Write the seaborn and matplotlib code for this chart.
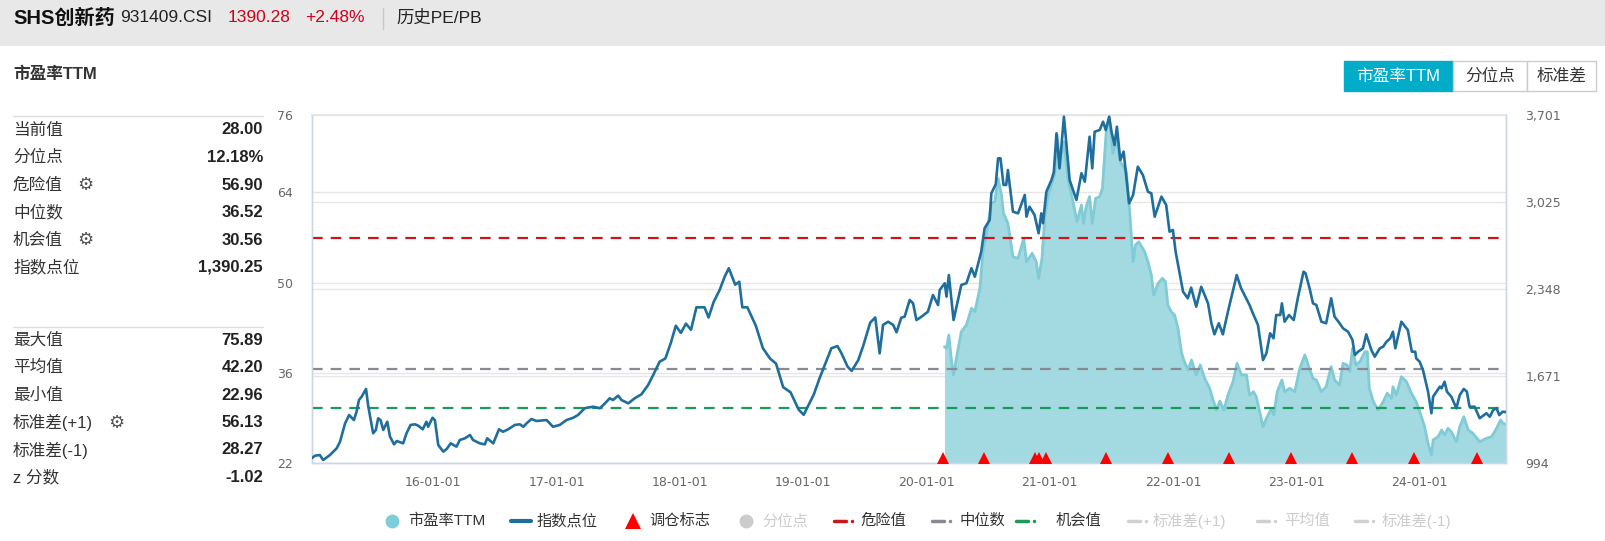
import numpy as np
import pandas as pd
import matplotlib
matplotlib.use("Agg")
import matplotlib.pyplot as plt
import matplotlib.dates as mdates
import matplotlib.transforms as mtransforms
from matplotlib.patches import Rectangle
from matplotlib.lines import Line2D
import seaborn as sns

W, H = 1606, 541

# -----------------------------------------------------------------------
# DATA
# -----------------------------------------------------------------------
index_dates = [
    "2015-01-06", "2015-01-16", "2015-01-30", "2015-02-09", "2015-03-01", "2015-03-21",
    "2015-03-31", "2015-04-15", "2015-04-27", "2015-05-11", "2015-05-19", "2015-05-26",
    "2015-06-03", "2015-06-16", "2015-06-22", "2015-07-07", "2015-07-15", "2015-07-22",
    "2015-07-29", "2015-08-06", "2015-08-18", "2015-08-26", "2015-09-07", "2015-09-15",
    "2015-10-04", "2015-10-14", "2015-10-26", "2015-11-08", "2015-11-18", "2015-12-01",
    "2015-12-12", "2015-12-17", "2015-12-30", "2016-01-06", "2016-01-16", "2016-01-31",
    "2016-02-10", "2016-02-22", "2016-03-10", "2016-03-20", "2016-04-04", "2016-04-19",
    "2016-04-28", "2016-05-18", "2016-06-02", "2016-06-09", "2016-06-27", "2016-07-14",
    "2016-07-26", "2016-08-10", "2016-08-30", "2016-09-14", "2016-09-24", "2016-10-04",
    "2016-10-18", "2016-11-02", "2016-12-02", "2016-12-21", "2017-01-10", "2017-01-30",
    "2017-02-19", "2017-03-05", "2017-03-25", "2017-04-19", "2017-05-09", "2017-05-24",
    "2017-06-07", "2017-06-17", "2017-07-02", "2017-07-12", "2017-08-01", "2017-08-20",
    "2017-09-09", "2017-09-29", "2017-10-14", "2017-11-02", "2017-11-19", "2017-12-05",
    "2017-12-20", "2018-01-04", "2018-01-19", "2018-02-03", "2018-02-19", "2018-03-15",
    "2018-03-27", "2018-04-11", "2018-04-29", "2018-05-14", "2018-05-26", "2018-06-14",
    "2018-06-26", "2018-07-05", "2018-07-20", "2018-08-14", "2018-09-04", "2018-09-25",
    "2018-10-13", "2018-11-03", "2018-11-25", "2018-12-19", "2019-01-03", "2019-01-18",
    "2019-02-02", "2019-02-18", "2019-03-08", "2019-03-26", "2019-04-13", "2019-04-25",
    "2019-05-13", "2019-05-25", "2019-06-13", "2019-06-28", "2019-07-19", "2019-08-03",
    "2019-08-16", "2019-08-26", "2019-09-10", "2019-09-25",
    "2019-10-05", "2019-10-19", "2019-10-29", "2019-11-13", "2019-11-23", "2019-12-03",
    "2019-12-18", "2020-01-06", "2020-01-21", "2020-02-05", "2020-02-10", "2020-02-25",
    "2020-03-01", "2020-03-08", "2020-03-22", "2020-04-01", "2020-04-14", "2020-04-29",
    "2020-05-14", "2020-05-24", "2020-06-12", "2020-06-22", "2020-07-07", "2020-07-12",
    "2020-07-25", "2020-08-01", "2020-08-08", "2020-08-17", "2020-08-25", "2020-08-30",
    "2020-09-14", "2020-09-29", "2020-10-19", "2020-10-24", "2020-11-02", "2020-11-17",
    "2020-11-29", "2020-12-07", "2020-12-12", "2020-12-22", "2021-01-06", "2021-01-13",
    "2021-01-21", "2021-01-30", "2021-02-12", "2021-03-01", "2021-03-21", "2021-04-05",
    "2021-04-15", "2021-04-29", "2021-05-07", "2021-05-14", "2021-05-29", "2021-06-08",
    "2021-06-16", "2021-06-26", "2021-07-03", "2021-07-12", "2021-07-19", "2021-07-29",
    "2021-08-08", "2021-08-24", "2021-09-05", "2021-09-19", "2021-10-04", "2021-10-19",
    "2021-10-29", "2021-11-08", "2021-11-28", "2021-12-12", "2021-12-22", "2022-01-01",
    "2022-01-09", "2022-01-31", "2022-02-14", "2022-02-24", "2022-03-11", "2022-03-26",
    "2022-04-15", "2022-04-25", "2022-05-04", "2022-05-17", "2022-05-29", "2022-06-13",
    "2022-06-26", "2022-07-09", "2022-07-22", "2022-08-06", "2022-08-16", "2022-08-26",
    "2022-09-10", "2022-09-25", "2022-10-05", "2022-10-16", "2022-10-26", "2022-11-03",
    "2022-11-15", "2022-11-20", "2022-11-28", "2022-12-11", "2022-12-25", "2023-01-06",
    "2023-01-23", "2023-01-29", "2023-02-10", "2023-02-20", "2023-03-02", "2023-03-17",
    "2023-03-31", "2023-04-15", "2023-04-25", "2023-05-10", "2023-05-20", "2023-06-04",
    "2023-06-17", "2023-06-24", "2023-07-04", "2023-07-18", "2023-07-28", "2023-08-12",
    "2023-08-22", "2023-09-06", "2023-09-16", "2023-09-26", "2023-10-07", "2023-10-15",
    "2023-10-22", "2023-11-09", "2023-11-28", "2023-12-10", "2023-12-20", "2023-12-23",
    "2024-01-02", "2024-01-12", "2024-01-27", "2024-02-06", "2024-02-11", "2024-03-02",
    "2024-03-07", "2024-03-16", "2024-03-23", "2024-04-05", "2024-04-20", "2024-04-30",
    "2024-05-12", "2024-05-21", "2024-05-29", "2024-06-13", "2024-06-28", "2024-07-18",
    "2024-07-28", "2024-08-07", "2024-08-17", "2024-08-25", "2024-09-04", "2024-09-14",
]
index_values = [
    1031, 1051, 1056, 1017, 1056, 1108, 1160, 1303, 1367, 1328, 1393, 1484,
    1510, 1570, 1445, 1225, 1251, 1342, 1328, 1251, 1315, 1199, 1139, 1165,
    1147, 1225, 1290, 1295, 1284, 1256, 1315, 1276, 1346, 1328, 1134, 1082,
    1103, 1147, 1121, 1173, 1186, 1212, 1173, 1147, 1139, 1186, 1147, 1256,
    1237, 1256, 1290, 1295, 1276, 1303, 1336, 1321, 1328, 1276, 1290, 1328,
    1346, 1367, 1420, 1432, 1420, 1458, 1497, 1484, 1518, 1484, 1458, 1497,
    1528, 1601, 1679, 1782, 1807, 1927, 2062, 2006, 2078, 2030, 2205, 2205,
    2126, 2246, 2341, 2445, 2509, 2381, 2404, 2205, 2205, 2062, 1887, 1807,
    1767, 1584, 1544, 1409, 1369, 1448, 1528, 1647, 1767, 1887, 1903, 1847,
    1743, 1711, 1791, 1903, 2086, 2126, 1847, 2068, 2093, 2068,
    2011, 2124, 2132, 2262, 2236, 2106, 2132, 2171, 2301, 2223, 2340, 2392,
    2288, 2456, 2106, 2223, 2379, 2392, 2509, 2443, 2638, 2820, 2884, 3092,
    3162, 3364, 3364, 3157, 3157, 3273, 2949, 2936, 3079, 2910, 2988, 2923,
    2781, 2936, 2859, 3104, 3195, 3255, 3559, 3286, 3688, 3195, 3040, 3248,
    3182, 3532, 3286, 3571, 3584, 3649, 3584, 3688, 3571, 3468, 3610, 3351,
    3416, 3014, 3079, 3299, 3234, 3104, 3092, 2910, 3066, 3001, 2793, 2807,
    2638, 2327, 2275, 2358, 2210, 2365, 2236, 2081, 1995, 2081, 1995, 2171,
    2314, 2456, 2353, 2275, 2223, 2158, 2068, 1795, 1847, 2003, 1964, 2145,
    2145, 2236, 2093, 2145, 2106, 2275, 2482, 2470, 2353, 2236, 2223, 2093,
    2081, 2275, 2132, 2081, 2042, 2015, 1951, 1834, 1860, 1886, 1995, 1873,
    1821, 1886, 1899, 1938, 1964, 2015, 1886, 2093, 2029, 1860, 1860, 1808,
    1782, 1717, 1549, 1381, 1510, 1588, 1575, 1626, 1549, 1510, 1420, 1523,
    1570, 1549, 1432, 1432, 1342, 1381, 1354, 1406, 1420, 1367, 1393, 1390,
]

pe_dates = [
    "2020-02-24", "2020-03-01", "2020-03-08", "2020-03-15", "2020-03-22", "2020-04-01",
    "2020-04-14", "2020-04-29", "2020-05-14", "2020-05-24", "2020-06-08", "2020-06-17",
    "2020-06-27", "2020-07-12", "2020-07-22", "2020-08-01", "2020-08-11", "2020-08-17",
    "2020-08-30", "2020-09-14", "2020-09-29", "2020-10-16", "2020-10-24", "2020-11-10",
    "2020-11-22", "2020-11-29", "2020-12-09", "2020-12-17", "2020-12-27", "2021-01-06",
    "2021-01-15", "2021-01-23", "2021-01-30", "2021-02-12", "2021-02-24", "2021-03-11",
    "2021-03-23", "2021-04-05", "2021-04-11", "2021-04-19", "2021-04-29", "2021-05-07",
    "2021-05-17", "2021-05-29", "2021-06-06", "2021-06-18", "2021-06-27", "2021-07-07",
    "2021-07-17", "2021-07-29", "2021-08-16", "2021-08-26", "2021-09-05", "2021-09-12",
    "2021-09-22", "2021-10-09", "2021-10-19", "2021-10-29", "2021-11-05", "2021-11-18",
    "2021-12-01", "2021-12-10", "2021-12-17", "2021-12-27", "2022-01-06", "2022-01-16",
    "2022-01-26", "2022-02-02", "2022-02-15", "2022-02-25", "2022-03-11", "2022-03-23",
    "2022-04-05", "2022-04-20", "2022-04-30", "2022-05-10", "2022-05-20", "2022-06-01",
    "2022-06-13", "2022-06-28", "2022-07-10", "2022-07-23", "2022-08-07", "2022-08-16",
    "2022-08-28", "2022-09-05", "2022-09-25", "2022-10-05", "2022-10-20", "2022-10-27",
    "2022-11-06", "2022-11-20", "2022-11-28", "2022-12-13", "2022-12-28", "2023-01-12",
    "2023-01-27", "2023-02-09", "2023-02-20", "2023-03-02", "2023-03-17", "2023-03-31",
    "2023-04-15", "2023-04-25", "2023-05-10", "2023-05-20", "2023-06-01", "2023-06-09",
    "2023-06-17", "2023-06-27", "2023-07-09", "2023-07-24", "2023-07-31", "2023-08-06",
    "2023-08-18", "2023-09-01", "2023-09-16", "2023-09-28", "2023-10-11", "2023-10-15",
    "2023-10-25", "2023-11-09", "2023-11-24", "2023-12-09", "2023-12-23", "2024-01-04",
    "2024-01-17", "2024-01-27", "2024-02-06", "2024-02-11", "2024-02-26", "2024-03-07",
    "2024-03-16", "2024-03-26", "2024-04-05", "2024-04-20", "2024-04-30", "2024-05-12",
    "2024-05-25", "2024-06-08", "2024-06-28", "2024-07-18", "2024-08-02", "2024-08-17",
    "2024-08-29", "2024-09-05", "2024-09-14",
]
pe_values = [
    40.05, 39.80, 41.86, 38.25, 35.66, 38.76, 42.38, 43.42, 46.01, 45.48, 49.11, 54.79,
    57.38, 62.30, 62.55, 66.18, 63.59, 60.75, 59.20, 54.01, 53.77, 56.87, 53.24, 54.54,
    53.24, 50.66, 53.77, 59.97, 63.59, 65.14, 66.69, 72.90, 68.76, 71.86, 66.18, 62.55,
    59.45, 62.04, 59.20, 61.77, 63.33, 59.20, 63.08, 63.33, 64.63, 73.94, 75.49, 70.06,
    72.39, 68.76, 67.20, 61.00, 53.24, 55.83, 56.34, 54.79, 53.24, 51.17, 48.07, 49.89,
    50.66, 50.13, 46.52, 45.48, 44.97, 42.90, 39.27, 37.98, 36.43, 37.98, 35.66, 37.21,
    35.14, 33.59, 31.78, 30.22, 31.62, 30.22, 32.55, 34.62, 37.47, 35.66, 35.66, 32.55,
    33.06, 32.29, 27.63, 28.94, 30.49, 29.45, 33.06, 34.88, 33.06, 33.59, 33.06, 36.70,
    38.76, 36.70, 35.14, 34.88, 33.06, 33.84, 36.94, 34.88, 34.10, 37.47, 37.21, 36.17,
    39.80, 37.21, 37.72, 39.27, 39.27, 33.59, 31.51, 30.22, 31.51, 32.82, 32.04, 33.84,
    32.55, 35.39, 34.62, 32.82, 31.51, 29.71, 27.63, 25.06, 23.24, 25.57, 26.08, 27.12,
    26.35, 27.38, 26.86, 25.31, 27.63, 29.18, 27.12, 26.61, 25.31, 25.83, 26.08, 27.38,
    28.67, 28.16, 28.00,
]

rebalance_dates = [
    "2020-02-21", "2020-06-19", "2020-11-17", "2020-12-01", "2020-12-22", "2021-06-18",
    "2021-12-17", "2022-06-17", "2022-12-16", "2023-06-16", "2023-12-15", "2024-06-21",
]

danger_value = 56.90
median_value = 36.52
chance_value = 30.56

pe_ticks = [22, 36, 50, 64, 76]
index_min, index_max = 994, 3701
index_tick_labels = ["994", "1,671", "2,348", "3,025", "3,701"]
x_tick_dates = [f"{y}-01-01" for y in range(2016, 2025)]

stats_top = [("当前值", "28.00"), ("分位点", "12.18%"), ("危险值", "56.90"),
             ("中位数", "36.52"), ("机会值", "30.56"), ("指数点位", "1,390.25")]
stats_bottom = [("最大值", "75.89"), ("平均值", "42.20"), ("最小值", "22.96"),
                ("标准差(+1)", "56.13"), ("标准差(-1)", "28.27"), ("z 分数", "-1.02")]
gear_rows = {"危险值": 85, "机会值": 85, "标准差(+1)": 116}

idx_df = pd.DataFrame({"date": pd.to_datetime(index_dates), "value": index_values})
pe_df = pd.DataFrame({"date": pd.to_datetime(pe_dates), "value": pe_values})
reb = pd.to_datetime(rebalance_dates)

# -----------------------------------------------------------------------
# STYLE
# -----------------------------------------------------------------------
sns.set_theme(style="white")
plt.rcParams["font.family"] = ["Liberation Sans", "Noto Sans CJK SC", "DejaVu Sans"]

C_IDX = "#1f6e9c"
C_PE_LINE = "#80cbd6"
C_PE_FILL = "#a3d9e1"
C_RED = "#c8181e"
C_GRAY = "#878a93"
C_GREEN = "#1c9a5c"
C_AXIS = "#ccd6eb"
C_GRID = "#e6e6e6"
C_TICK = "#666666"


def px(x, y):
    return x / W, 1 - y / H


fig = plt.figure(figsize=(W / 100, H / 100), dpi=100)

# header band
fig.patches.append(Rectangle((0, 1 - 46 / H), 1, 46 / H, transform=fig.transFigure,
                             facecolor="#e8e8e8", edgecolor="none", zorder=0))
fig.text(*px(13, 18), "SHS创新药", fontsize=14.5, fontweight="bold", color="#111", va="center")
fig.text(*px(120, 18), "931409.CSI", fontsize=12.5, color="#222", va="center")
fig.text(*px(228, 18), "1390.28", fontsize=12.5, color="#d0021b", va="center")
fig.text(*px(305, 18), "+2.48%", fontsize=12.5, color="#d0021b", va="center")
fig.add_artist(Line2D([383 / W, 383 / W], [1 - 8 / H, 1 - 29 / H], color="#c8c8c8",
                      lw=1, transform=fig.transFigure))
fig.text(*px(396, 18), "历史PE/PB", fontsize=12.5, color="#222", va="center")

fig.text(*px(13, 74), "市盈率TTM", fontsize=12, fontweight="bold", color="#333", va="center")

# buttons
buttons = [("市盈率TTM", 1344, 1453, True), ("分位点", 1453, 1527, False), ("标准差", 1527, 1596, False)]
for label, x0, x1, active in buttons:
    fig.patches.append(Rectangle(px(x0, 91), (x1 - x0) / W, 30 / H, transform=fig.transFigure,
                                 facecolor="#00acc8" if active else "white",
                                 edgecolor="#00acc8" if active else "#cccccc", lw=1))
    fig.text(*px((x0 + x1) / 2, 76), label, fontsize=12, ha="center", va="center",
             color="white" if active else "#333")

# left stats panel
for y_sep in (116, 327):
    fig.add_artist(Line2D([13 / W, 263 / W], [1 - y_sep / H] * 2, color="#dddddd",
                          lw=1, transform=fig.transFigure))
rows = list(zip(stats_top, [130, 157.5, 185, 212, 240, 267])) + \
    list(zip(stats_bottom, [340.5, 367.5, 395, 422.5, 450, 477.5]))
for (label, value), yc in rows:
    fig.text(*px(13, yc), label, fontsize=12, color="#333", va="center")
    fig.text(*px(263, yc), value, fontsize=12, fontweight="bold", color="#222",
             va="center", ha="right")
    if label in gear_rows:
        fig.text(*px(gear_rows[label], yc), "⚙", fontsize=13, color="#555",
                 va="center", ha="center", family="DejaVu Sans")

# -----------------------------------------------------------------------
# MAIN CHART
# -----------------------------------------------------------------------
ax = fig.add_axes([311.7 / W, 1 - 463 / H, (1506 - 311.7) / W, (463 - 115) / H])
ax2 = ax.twinx()

# split lines of the right-hand axis, kept under the series
for frac in np.linspace(0, 1, 5)[1:-1]:
    ax.plot([0, 1], [frac, frac], transform=ax.transAxes, color=C_GRID, lw=1, zorder=0.5)

ax.fill_between(pe_df["date"], pe_ticks[0], pe_df["value"], color=C_PE_FILL, lw=0, zorder=1)
sns.lineplot(data=pe_df, x="date", y="value", ax=ax, color=C_PE_LINE, lw=2, zorder=2)

dash = (0, (4.8, 3.6))
for val, col in ((danger_value, C_RED), (median_value, C_GRAY), (chance_value, C_GREEN)):
    ax.axhline(val, color=col, lw=1.6, linestyle=dash, zorder=3)

sns.lineplot(data=idx_df, x="date", y="value", ax=ax2, color=C_IDX, lw=1.9, zorder=4)

tri_offset = mtransforms.ScaledTranslation(0, 5.5 / 100, fig.dpi_scale_trans)
ax2.plot(reb, np.zeros(len(reb)), linestyle="none", marker="^", ms=8.2, color="#ff0000",
         markeredgewidth=0, transform=ax2.get_xaxis_transform() + tri_offset,
         clip_on=False, zorder=6)

ax.set_xlim(idx_df["date"].iloc[0], idx_df["date"].iloc[-1])
ax.set_ylim(pe_ticks[0], pe_ticks[-1])
ax.set_yticks(pe_ticks)
ax2.set_ylim(index_min, index_max)
ax2.set_yticks(np.linspace(index_min, index_max, 5))
ax2.set_yticklabels(index_tick_labels)

ax.set_xticks(pd.to_datetime(x_tick_dates))
ax.xaxis.set_major_formatter(mdates.DateFormatter("%y-%m-%d"))

for a in (ax, ax2):
    a.set_xlabel("")
    a.set_ylabel("")
    a.grid(axis="x", visible=False)
    for s in ("left", "right", "bottom"):
        a.spines[s].set_color(C_AXIS)
        a.spines[s].set_linewidth(1)
    a.spines["top"].set_color(C_GRID)
    a.tick_params(axis="y", length=0, labelsize=9, labelcolor=C_TICK)
    for t in a.get_yticklabels():
        t.set_family("DejaVu Sans")
ax.grid(axis="y", color=C_GRID, lw=1)
ax2.grid(False)
ax2.patch.set_visible(False)
ax.tick_params(axis="y", pad=13.5)
ax2.tick_params(axis="y", pad=14)
ax.tick_params(axis="x", length=7, width=1, color=C_AXIS, labelsize=9,
               labelcolor=C_TICK, pad=2, direction="out")
for t in ax.get_xticklabels():
    t.set_family("DejaVu Sans")

# -----------------------------------------------------------------------
# LEGEND (drawn by hand, echarts-style row)
# -----------------------------------------------------------------------
ly = 521
tf = fig.transFigure


def legend_text(x, s, color="#333"):
    fig.text(*px(x, ly), s, fontsize=11, color=color, va="center")


fig.add_artist(Line2D([392 / W], [1 - ly / H], marker="o", ms=10, color="#7fcdd8",
                      markeredgewidth=0, transform=tf))
legend_text(408, "市盈率TTM")
fig.add_artist(Line2D([511 / W, 531 / W], [1 - ly / H] * 2, color=C_IDX, lw=3, transform=tf))
legend_text(537, "指数点位")
fig.add_artist(Line2D([633 / W], [1 - ly / H], marker="^", ms=11, color="#ff0000",
                      markeredgewidth=0, transform=tf))
legend_text(649, "调仓标志")
fig.add_artist(Line2D([746 / W], [1 - ly / H], marker="o", ms=10, color="#cccccc",
                      markeredgewidth=0, transform=tf))
legend_text(762, "分位点", "#cccccc")

dashdot_items = [(834, "危险值", C_RED, "#333"), (932, "中位数", C_GRAY, "#333"),
                 (1016, "机会值", C_GREEN, "#333"), (1128, "标准差(+1)", "#d0d0d0", "#cccccc"),
                 (1257, "平均值", "#d0d0d0", "#cccccc"), (1355, "标准差(-1)", "#d0d0d0", "#cccccc")]
text_gap = {"危险值": 26, "中位数": 28, "机会值": 40, "标准差(+1)": 25,
            "平均值": 27, "标准差(-1)": 27}
for x0, label, col, tcol in dashdot_items:
    fig.add_artist(Line2D([x0 / W, (x0 + 12) / W], [1 - ly / H] * 2, color=col, lw=2.5,
                          transform=tf))
    fig.add_artist(Line2D([(x0 + 18) / W], [1 - ly / H], marker="o", ms=2.5, color=col,
                          markeredgewidth=0, transform=tf))
    legend_text(x0 + text_gap[label], label, tcol)

fig.savefig("out.png", dpi=100)
